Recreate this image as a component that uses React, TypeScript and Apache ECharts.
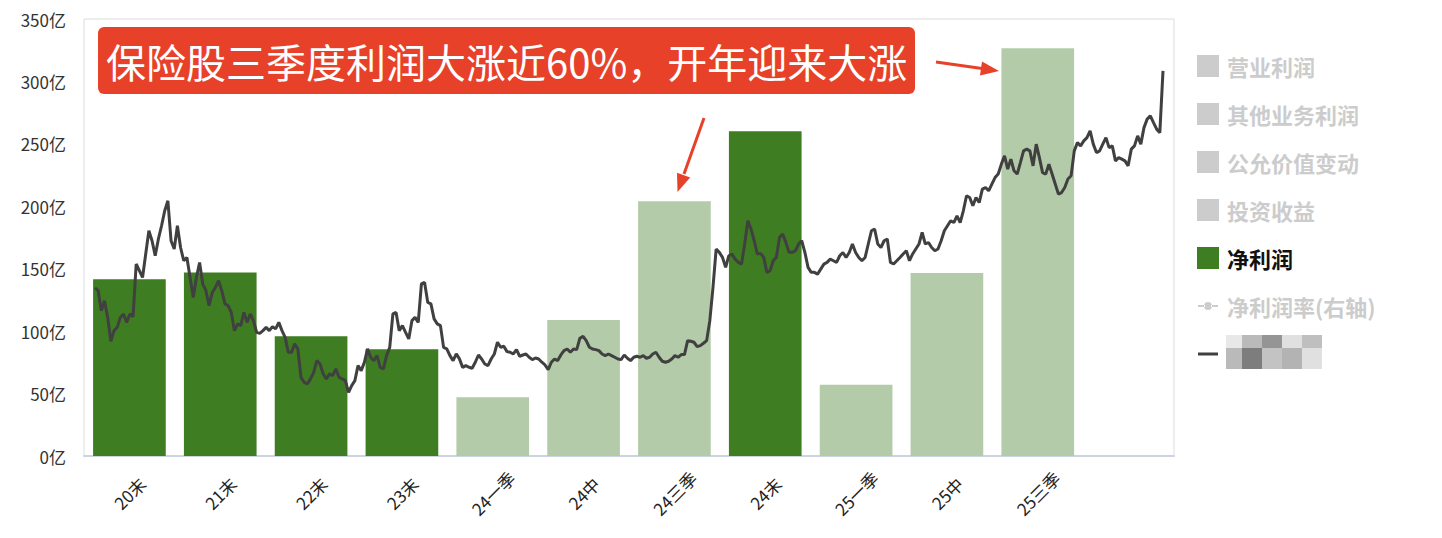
import React, { useEffect, useRef } from 'react';
import * as echarts from 'echarts';

// 报告期
const categories = ['20末', '21末', '22末', '23末', '24一季', '24中', '24三季', '24末', '25一季', '25中', '25三季', ''];
// 净利润（亿）
const netProfit = [141.5, 147, 96, 85.5, 47, 109, 204, 260, 57, 146.5, 326.5, null];
// 年末数据用深色，季度/半年用浅色
const isYearEnd = [true, true, true, true, false, false, false, true, false, false, false, false];

// 保险指数走势（按左轴刻度折算）
const line2020 = [134.6, 132.4, 116.4, 124.4, 111, 91.8, 100.4, 103, 111, 113.8, 107, 113.8, 111.6, 153.8, 148.4, 143, 161.8, 180.4, 172.4, 160.4, 173.8, 184.4, 196.4, 204.4, 172.4, 165.8, 184.4, 167, 156.4, 159, 143, 127, 143, 155, 137.8, 132.4, 120.4, 131, 135, 140.4, 132.4, 121.8, 120.4, 115, 100.4, 105.8, 104.4, 115, 107, 113.8, 108.4, 99, 98.2, 100.4, 103, 100.4, 103.6, 101.8, 107, 100.4, 95];
const line2022 = [83, 83, 89.8, 85.8, 63, 59, 57.8, 61.8, 67, 76.4, 73.8, 65.8, 61.8, 65.8, 64.4, 69.8, 63, 61.8, 60.4, 51, 56.4, 60.4, 72.4, 68.4, 75, 85.8, 79, 76.4, 80.4, 71, 69.8, 80.4, 87, 113.8, 115, 100.4, 104.4, 99, 93.8, 108.4, 111, 107, 137.8, 139, 123, 121.8, 109.8, 105.8, 104.4, 87, 85.8, 80.4, 76.4, 81.8, 77.8, 71, 72.4];
const line2024a = [71.1, 70.3, 75.1, 80.9, 77.7, 73.7, 72.4, 77.7, 81.7, 91.1, 87.1, 87.9, 83.6, 83.1, 81.7, 85.2, 79.9, 80.9, 81.7, 79.1, 77.2, 78.5, 77.7, 75.1, 72.9, 69.2, 75.1, 77.7, 76.4, 80.9, 84.4, 85.7, 83.1, 85.7, 85.2, 94.3, 95.9, 92.4, 87.1, 85.7, 85.2, 84.4, 81.7, 80.4, 81.7, 80.4, 79.1, 77.7, 77.2, 80.9, 78.3, 76.4, 79.1, 79.9, 79.1, 80.4, 78.3, 79.1, 81.7];
const line2024b = [83.1, 79.1, 75.9, 75.1, 75.9, 77.7, 80.4, 79.1, 81.2, 81.2, 92.4, 91.9, 91.1, 87.6, 88.4, 90.3, 92.4, 108.4, 135.1, 165.7, 163.1, 159.1, 151.1, 160.4, 161.7, 157.7, 155.1, 153.7, 169.7, 188.4, 181.7, 172.4, 161.7, 162.3, 159.1, 147.1, 148.4, 156.4, 159.1, 175.1, 177.7, 171.1, 163.1, 163.1, 164.4, 169.7, 172.4, 163.1, 151.1, 147.1, 147.1, 145.7, 149.7, 153.7, 155.1, 157.7, 156.4, 155.1, 160.4];
const line2025 = [163, 159, 163, 169.8, 163, 159, 156.4, 159, 169.8, 180.4, 181.8, 169.8, 167, 172.4, 173.8, 155, 153.8, 156.4, 159, 161.8, 164.4, 156.4, 161.8, 165.8, 169.8, 179, 169.8, 171, 167, 164.4, 165.8, 172.4, 180.4, 184.4, 188.4, 187, 192.4, 187, 196.4, 208.4, 207, 200.4, 207, 203, 213.8, 215, 212.4, 217.8, 223, 225.8, 233.8, 240.4, 229.8, 237.8, 228.4, 225.8, 235, 244.4, 245.8, 244.4, 232.4, 249.8, 239, 227, 225.8, 233.8, 225.8, 217.8, 209.8, 211, 215, 221.8, 224.4, 244.4, 251, 248.4, 252.4, 255, 260.4, 249.8, 243, 244.4, 249.8, 255, 247, 248.4, 236.4, 239, 237.8, 236.4, 232.4, 245.8, 248.4, 256.4, 249.8, 263, 269.8, 272.4, 267, 261.8, 259, 308.4];

const RED = '#e8412a';
const FONT = '"Noto Sans CJK SC", "Noto Sans", sans-serif';

// 图例图标：四角各放一个极小点，让图形框为正方形，线条居中
const CORNERS = 'M0,0 L0.01,0 L0,0.01 Z M21.99,22 L22,22 L22,21.99 Z';
const LINE_DOT_ICON = `path://${CORNERS} M1,10 L8,10 L8,12 L1,12 Z M7,11 A4,4 0 1,0 15,11 A4,4 0 1,0 7,11 Z M14,10 L21,10 L21,12 L14,12 Z`;
const LINE_ICON = `path://${CORNERS} M1,9.5 L21,9.5 L21,12.5 L1,12.5 Z`;

const App: React.FC = () => {
  const chartRef = useRef<HTMLDivElement>(null);

  useEffect(() => {
    if (!chartRef.current) return;
    document.body.style.margin = '0';

    const indexLine = [...line2020, ...line2022, ...line2024a, ...line2024b, ...line2025];
    const chart = echarts.init(chartRef.current, null, { renderer: 'svg' });

    // 打码块
    const mosaicCols = [1226, 1242, 1262, 1282, 1302, 1322];
    const mosaicRows = [335, 348, 369];
    const mosaicShades = [
      ['#e8e8e8', '#bababa', '#959595', '#e0e0e0', '#bfbfbf'],
      ['#bababa', '#7d7d7d', '#c3c3c3', '#b3b3b3', '#e0e0e0'],
    ];
    const mosaic: any[] = [];
    mosaicShades.forEach((row, r) => {
      row.forEach((c, i) => {
        mosaic.push({
          type: 'rect',
          shape: {
            x: mosaicCols[i],
            y: mosaicRows[r],
            width: mosaicCols[i + 1] - mosaicCols[i],
            height: mosaicRows[r + 1] - mosaicRows[r],
          },
          style: { fill: c },
          silent: true,
        });
      });
    });

    const option = {
      animation: false,
      textStyle: { fontFamily: FONT },
      legend: {
        orient: 'vertical',
        left: 1197,
        top: 55,
        padding: 0,
        itemWidth: 22,
        itemHeight: 22,
        itemGap: 26,
        inactiveColor: '#cccccc',
        inactiveBorderColor: '#cccccc',
        textStyle: { fontSize: 22, fontWeight: 'bold', color: '#111', fontFamily: FONT, padding: [0, 0, 0, 3], lineHeight: 22 },
        formatter: (name: string) => (name === '保险指数' ? ' ' : name),
        selected: {
          营业利润: false,
          其他业务利润: false,
          公允价值变动: false,
          投资收益: false,
          '净利润率(右轴)': false,
        },
        data: [
          { name: '营业利润', icon: 'rect' },
          { name: '其他业务利润', icon: 'rect' },
          { name: '公允价值变动', icon: 'rect' },
          { name: '投资收益', icon: 'rect' },
          { name: '净利润', icon: 'rect' },
          { name: '净利润率(右轴)', icon: LINE_DOT_ICON },
          { name: '保险指数', icon: LINE_ICON },
        ],
      },
      grid: [
        { left: 84, right: 268, top: 19, bottom: 82, show: true, borderColor: '#dcdcdc', borderWidth: 1 },
        { left: 95, right: 279, top: 19, bottom: 82 },
      ],
      xAxis: [
        {
          type: 'category',
          gridIndex: 0,
          data: categories,
          axisTick: { show: false },
          axisLine: { lineStyle: { color: '#ccd4e2', width: 2 } },
          axisLabel: {
            rotate: 45,
            align: 'center',
            verticalAlign: 'middle',
            margin: 37,
            fontSize: 17,
            color: '#222',
            fontFamily: FONT,
            interval: 0,
          },
        },
        {
          type: 'category',
          gridIndex: 1,
          data: indexLine.map((_, i) => String(i)),
          boundaryGap: false,
          show: false,
        },
      ],
      yAxis: [
        {
          type: 'value',
          gridIndex: 0,
          min: 0,
          max: 350,
          interval: 50,
          axisLine: { show: false },
          axisTick: { show: false },
          splitLine: { show: false },
          axisLabel: { formatter: '{value}亿', fontSize: 17, color: '#333', margin: 18, fontFamily: FONT },
        },
        { type: 'value', gridIndex: 1, min: 0, max: 350, show: false },
      ],
      series: [
        { name: '营业利润', type: 'bar', data: [], itemStyle: { color: '#cccccc' }, barGap: '-100%' },
        { name: '其他业务利润', type: 'bar', data: [], itemStyle: { color: '#cccccc' }, barGap: '-100%' },
        { name: '公允价值变动', type: 'bar', data: [], itemStyle: { color: '#cccccc' }, barGap: '-100%' },
        { name: '投资收益', type: 'bar', data: [], itemStyle: { color: '#cccccc' }, barGap: '-100%' },
        {
          name: '净利润',
          type: 'bar',
          barWidth: '80%',
          barGap: '-100%',
          itemStyle: { color: '#3f7d22' },
          data: netProfit.map((v, i) => ({
            value: v,
            itemStyle: { color: isYearEnd[i] ? '#3f7d22' : '#b3cba8' },
          })),
        },
        {
          name: '净利润率(右轴)',
          type: 'line',
          data: [],
          itemStyle: { color: '#cccccc' },
        },
        {
          name: '保险指数',
          type: 'line',
          xAxisIndex: 1,
          yAxisIndex: 1,
          data: indexLine,
          symbol: 'none',
          itemStyle: { color: '#404040' },
          lineStyle: { color: '#404040', width: 3 },
          z: 5,
        },
      ],
      graphic: [
        {
          type: 'rect',
          shape: { x: 98, y: 27, width: 817, height: 67, r: 6 },
          style: { fill: RED },
          z: 10,
        },
        {
          type: 'text',
          x: 106,
          y: 61,
          style: {
            text: '保险股三季度利润大涨近60%，开年迎来大涨',
            fill: '#ffffff',
            font: `40px ${FONT}`,
            textVerticalAlign: 'middle',
          },
          z: 11,
        },
        {
          type: 'polyline',
          shape: { points: [[936, 62], [982, 68.6]] },
          style: { stroke: RED, lineWidth: 3, fill: null },
          z: 10,
        },
        {
          type: 'polygon',
          shape: { points: [[999, 71], [982, 61.6], [980, 75.4]] },
          style: { fill: RED },
          z: 10,
        },
        {
          type: 'polyline',
          shape: { points: [[704, 118], [684, 174]] },
          style: { stroke: RED, lineWidth: 3, fill: null },
          z: 10,
        },
        {
          type: 'polygon',
          shape: { points: [[677.5, 192], [677, 172.7], [690.2, 177.5]] },
          style: { fill: RED },
          z: 10,
        },
        ...mosaic,
      ],
    };

    chart.setOption(option);

    return () => {
      chart.dispose();
    };
  }, []);

  return <div ref={chartRef} style={{ width: '1442px', height: '538px' }} />;
};

export default App;
